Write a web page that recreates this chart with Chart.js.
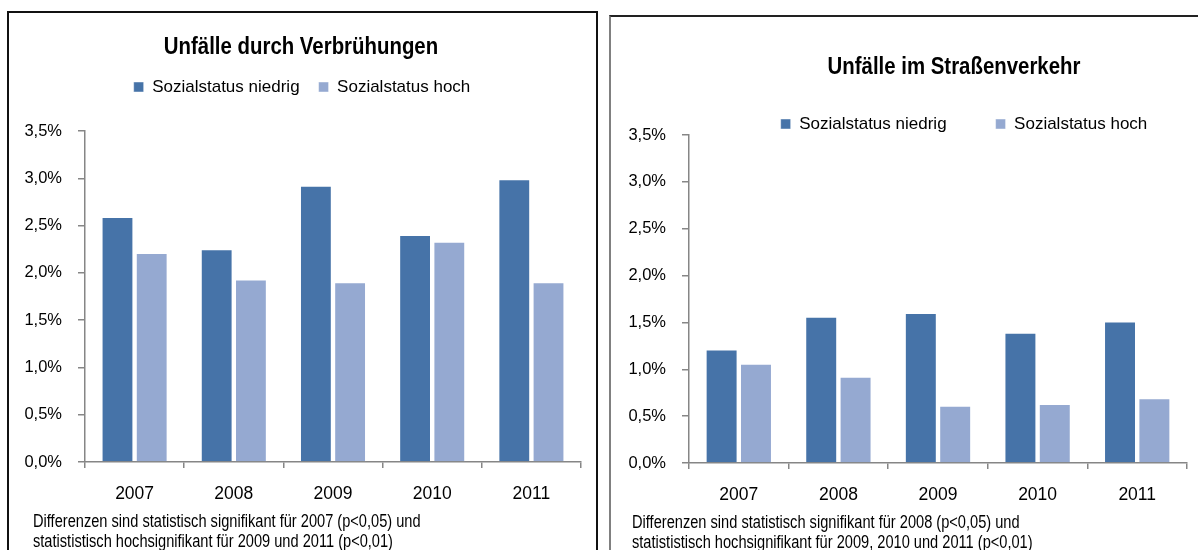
<!DOCTYPE html>
<html lang="de">
<head>
<meta charset="utf-8">
<title>Unfälle nach Sozialstatus</title>
<script src="https://cdn.jsdelivr.net/npm/chart.js@4.4.1/dist/chart.umd.min.js"></script>
<style>
  html, body { margin: 0; padding: 0; background: #fff; overflow: hidden; width: 1198px; height: 550px; }
  body { position: relative; font-family: "Liberation Sans", Arial, sans-serif; color: #000; }
  .frame { position: absolute; box-sizing: border-box; }
  #frameLeft { left: 7px; top: 11px; width: 591px; height: 600px; border: 2px solid #111; }
  #frameRight { left: 609px; top: 15px; width: 720px; height: 600px; border: 2px solid #222; border-left-color: #808080; }
  .wrap { position: absolute; }
  #wrapLeft { left: 10px; top: 13px; width: 584px; height: 537px; }
  #wrapRight { left: 612px; top: 18px; width: 704px; height: 532px; }
  /* the original uses a condensed face, squeeze the html text a bit */
  .title { position: absolute; font-weight: bold; font-size: 24px; white-space: nowrap; line-height: 28px; transform: translateX(-50%) scaleX(0.85); }
  #titleLeft { left: 301px; top: 32px; }
  #titleRight { left: 954px; top: 52px; }
  .note { position: absolute; font-size: 17.5px; line-height: 20px; white-space: nowrap; transform: scaleX(0.835); transform-origin: 0 0; }
  #noteLeft { left: 33px; top: 511px; }
  #noteRight { left: 632px; top: 512px; }
</style>
</head>
<body>
<div class="frame" id="frameLeft"></div>
<div class="frame" id="frameRight"></div>

<div class="wrap" id="wrapLeft"><canvas id="chartLeft"></canvas></div>
<div class="wrap" id="wrapRight"><canvas id="chartRight"></canvas></div>

<div class="title" id="titleLeft">Unfälle durch Verbrühungen</div>
<div class="title" id="titleRight">Unfälle im Straßenverkehr</div>

<div class="note" id="noteLeft">Differenzen sind statistisch signifikant für 2007 (p&lt;0,05) und<br>statististisch hochsignifikant für 2009 und 2011 (p&lt;0,01)</div>
<div class="note" id="noteRight">Differenzen sind statistisch signifikant für 2008 (p&lt;0,05) und<br>statististisch hochsignifikant für 2009, 2010 und 2011 (p&lt;0,01)</div>

<script>
// categories + values (percent)
const years = ["2007", "2008", "2009", "2010", "2011"];
const seriesNames = ["Sozialstatus niedrig", "Sozialstatus hoch"];

const verbruehungNiedrig = [2.59, 2.25, 2.92, 2.40, 2.99];
const verbruehungHoch = [2.21, 1.93, 1.90, 2.33, 1.90];

const verkehrNiedrig = [1.21, 1.56, 1.60, 1.39, 1.51];
const verkehrHoch = [1.06, 0.92, 0.61, 0.63, 0.69];

const yTickLabels = ["0,0%", "0,5%", "1,0%", "1,5%", "2,0%", "2,5%", "3,0%", "3,5%"];

const FONT = '"Liberation Sans", Arial, sans-serif';
const DARK = "#4673a8";
const LIGHT = "#95a9d1";
const AXIS = "#868686";
const LEGEND_SIZE = 17;

// builds one bar chart; layout numbers are canvas pixels
function makeChart(canvasId, dataLow, dataHigh, lay) {
  const ctx = document.getElementById(canvasId);
  const legendTop = lay.legendCenter - lay.legendGap - LEGEND_SIZE / 2;
  const legendNatural = LEGEND_SIZE + lay.legendGap + 10;
  const legendHeight = Math.min(legendNatural, lay.chartTop - legendTop);
  const topSpacer = lay.chartTop - legendTop - legendHeight;

  return new Chart(ctx, {
    type: "bar",
    data: {
      labels: years,
      datasets: [
        {
          label: seriesNames[0],
          data: dataLow,
          backgroundColor: DARK,
          borderColor: "rgba(255,255,255,0.45)",
          borderWidth: 1,
          categoryPercentage: 0.69,
          barPercentage: 0.93
        },
        {
          label: seriesNames[1],
          data: dataHigh,
          backgroundColor: LIGHT,
          borderColor: "rgba(255,255,255,0.45)",
          borderWidth: 1,
          categoryPercentage: 0.69,
          barPercentage: 0.93
        }
      ]
    },
    options: {
      responsive: true,
      maintainAspectRatio: false,
      animation: false,
      layout: { padding: { top: legendTop, left: 0, right: 0, bottom: 0 } },
      plugins: {
        title: { display: false },
        tooltip: { enabled: false },
        legend: {
          display: true,
          position: "top",
          maxHeight: legendHeight,
          labels: {
            boxWidth: 10,
            boxHeight: 10,
            padding: lay.legendGap,
            color: "#000",
            font: { family: FONT, size: LEGEND_SIZE }
          }
        }
      },
      scales: {
        x: {
          grid: { display: true, drawOnChartArea: false, drawTicks: true, tickLength: 6, color: AXIS, lineWidth: 1.5 },
          border: { display: true, color: AXIS, width: 1.5 },
          ticks: { color: "#000", padding: 16, font: { family: FONT, size: 17.5 } },
          afterFit: function (scale) { scale.height = lay.xHeight; }
        },
        y: {
          min: 0,
          max: 3.5,
          grid: { display: true, drawOnChartArea: false, drawTicks: true, tickLength: 7, color: AXIS, lineWidth: 1.5 },
          border: { display: true, color: AXIS, width: 1.5 },
          ticks: {
            stepSize: 0.5,
            padding: 16,
            color: "#000",
            font: { family: FONT, size: 16.5 },
            callback: function (value, index) { return yTickLabels[index]; }
          },
          afterFit: function (scale) { scale.width = lay.yWidth; }
        },
        // empty spacer axes to pin the plot area
        padTop: {
          type: "linear",
          position: "top",
          display: topSpacer > 0,
          grid: { display: false },
          border: { display: false },
          ticks: { display: false },
          afterFit: function (scale) { scale.height = topSpacer; }
        },
        padRight: {
          type: "linear",
          position: "right",
          display: true,
          grid: { display: false },
          border: { display: false },
          ticks: { display: false },
          afterFit: function (scale) { scale.width = lay.rightSpace; }
        }
      }
    }
  });
}

makeChart("chartLeft", verbruehungNiedrig, verbruehungHoch, {
  legendCenter: 74, legendGap: 19, chartTop: 118, xHeight: 88, yWidth: 75, rightSpace: 13
});

makeChart("chartRight", verkehrNiedrig, verkehrHoch, {
  legendCenter: 106, legendGap: 49, chartTop: 117, xHeight: 87, yWidth: 77, rightSpace: 129
});
</script>
</body>
</html>
